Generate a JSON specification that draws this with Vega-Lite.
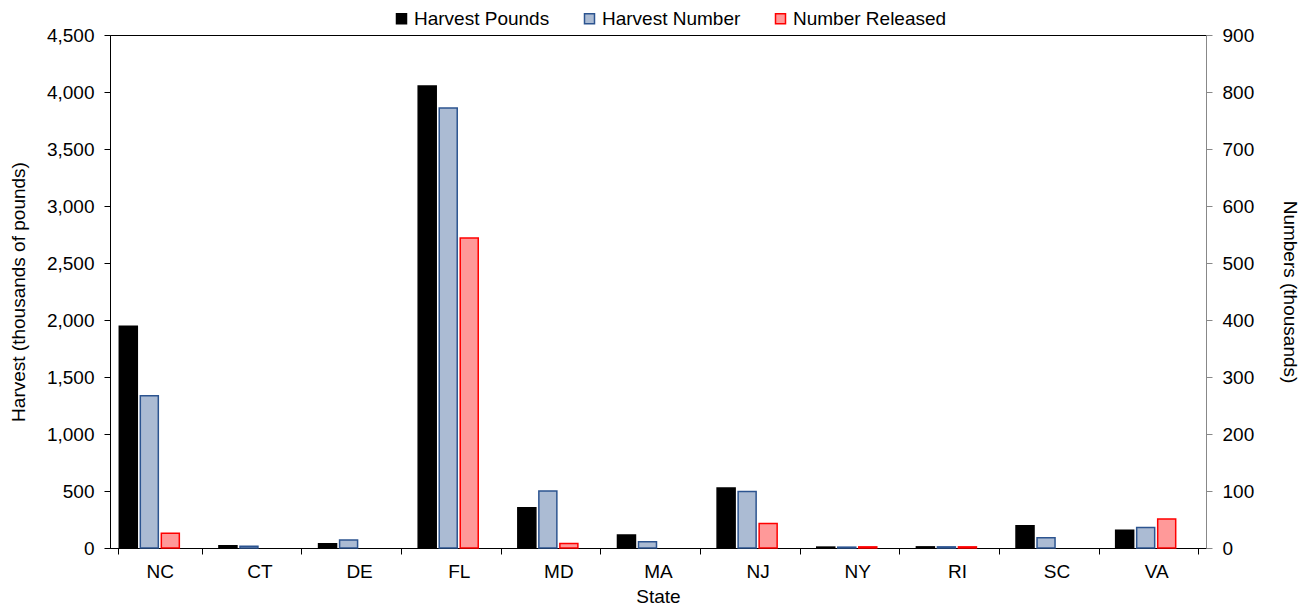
{
  "$schema": "https://vega.github.io/schema/vega-lite/v6.json",
  "width": 1096,
  "height": 513,
  "autosize": {"type": "none"},
  "padding": {"left": 110, "top": 35, "right": 103, "bottom": 58},
  "background": "white",
  "config": {
    "font": "Liberation Sans",
    "view": {"stroke": "#000000", "strokeWidth": 1},
    "axis": {"labelFont": "Liberation Sans", "titleFont": "Liberation Sans", "labelFontSize": 19, "titleFontSize": 19, "titleFontWeight": "normal", "labelColor": "#000", "titleColor": "#000", "grid": false, "tickSize": 6},
    "legend": {"labelFont": "Liberation Sans", "labelFontSize": 19, "labelColor": "#000"}
  },
  "data": {"values": [
    {"state": "NC", "series": "Harvest Pounds", "value": 1945},
    {"state": "NC", "series": "Harvest Number", "value": 267},
    {"state": "NC", "series": "Number Released", "value": 26},
    {"state": "CT", "series": "Harvest Pounds", "value": 20},
    {"state": "CT", "series": "Harvest Number", "value": 3},
    {"state": "DE", "series": "Harvest Pounds", "value": 38},
    {"state": "DE", "series": "Harvest Number", "value": 14},
    {"state": "FL", "series": "Harvest Pounds", "value": 4052},
    {"state": "FL", "series": "Harvest Number", "value": 772},
    {"state": "FL", "series": "Number Released", "value": 544},
    {"state": "MD", "series": "Harvest Pounds", "value": 353},
    {"state": "MD", "series": "Harvest Number", "value": 100},
    {"state": "MD", "series": "Number Released", "value": 8},
    {"state": "MA", "series": "Harvest Pounds", "value": 114},
    {"state": "MA", "series": "Harvest Number", "value": 11},
    {"state": "NJ", "series": "Harvest Pounds", "value": 526},
    {"state": "NJ", "series": "Harvest Number", "value": 99},
    {"state": "NJ", "series": "Number Released", "value": 43},
    {"state": "NY", "series": "Harvest Pounds", "value": 8},
    {"state": "NY", "series": "Harvest Number", "value": 1.5},
    {"state": "NY", "series": "Number Released", "value": 2},
    {"state": "RI", "series": "Harvest Pounds", "value": 10},
    {"state": "RI", "series": "Harvest Number", "value": 2},
    {"state": "RI", "series": "Number Released", "value": 2},
    {"state": "SC", "series": "Harvest Pounds", "value": 196},
    {"state": "SC", "series": "Harvest Number", "value": 18},
    {"state": "VA", "series": "Harvest Pounds", "value": 155},
    {"state": "VA", "series": "Harvest Number", "value": 36},
    {"state": "VA", "series": "Number Released", "value": 51}
  ]},
  "encoding": {
    "x": {
      "field": "state", "type": "nominal",
      "sort": ["NC", "CT", "DE", "FL", "MD", "MA", "NJ", "NY", "RI", "SC", "VA"],
      "scale": {"paddingInner": 0.157, "paddingOuter": 0.0785},
      "axis": {"title": "State", "labelAngle": 0, "tickBand": "extent", "labelPadding": 8, "titlePadding": 6, "domainColor": "#000", "tickColor": "#000"}
    },
    "xOffset": {
      "field": "series", "type": "nominal",
      "scale": {"domain": ["Harvest Pounds", "Harvest Number", "Number Released", "blank"], "paddingInner": 0.143, "paddingOuter": 0.07}
    },
    "fill": {
      "field": "series", "type": "nominal",
      "scale": {"domain": ["Harvest Pounds", "Harvest Number", "Number Released"], "range": ["#000000", "#ABBBD3", "#FF9999"]},
      "legend": {"title": null, "orient": "none", "legendX": 282, "legendY": -26, "direction": "horizontal", "symbolType": "square", "symbolSize": 100, "symbolStrokeWidth": 1.5, "labelOffset": 3, "columnPadding": 30, "padding": 0}
    },
    "stroke": {
      "field": "series", "type": "nominal",
      "scale": {"domain": ["Harvest Pounds", "Harvest Number", "Number Released"], "range": ["#000000", "#2C5490", "#FF0000"]},
      "legend": {"title": null, "orient": "none", "legendX": 282, "legendY": -26, "direction": "horizontal", "symbolType": "square", "symbolSize": 100, "symbolStrokeWidth": 1.5, "labelOffset": 3, "columnPadding": 30, "padding": 0}
    }
  },
  "layer": [
    {
      "transform": [{"filter": "datum.series === 'Harvest Pounds'"}],
      "mark": {"type": "bar", "strokeWidth": 1.5},
      "encoding": {
        "y": {
          "field": "value", "type": "quantitative",
          "scale": {"domain": [0, 4500], "nice": false},
          "axis": {"title": "Harvest (thousands of pounds)", "orient": "left", "values": [0, 500, 1000, 1500, 2000, 2500, 3000, 3500, 4000, 4500], "format": ",.0f", "labelPadding": 10, "titlePadding": 18, "domainColor": "#000", "tickColor": "#000"}
        }
      }
    },
    {
      "transform": [{"filter": "datum.series !== 'Harvest Pounds'"}],
      "mark": {"type": "bar", "strokeWidth": 1.5},
      "encoding": {
        "y": {
          "field": "value", "type": "quantitative",
          "scale": {"domain": [0, 900], "nice": false},
          "axis": {"title": "Numbers (thousands)", "orient": "right", "values": [0, 100, 200, 300, 400, 500, 600, 700, 800, 900], "format": "d", "labelPadding": 10, "titlePadding": 26, "domainColor": "#888888", "tickColor": "#888888"}
        }
      }
    }
  ],
  "resolve": {"scale": {"y": "independent"}}
}
